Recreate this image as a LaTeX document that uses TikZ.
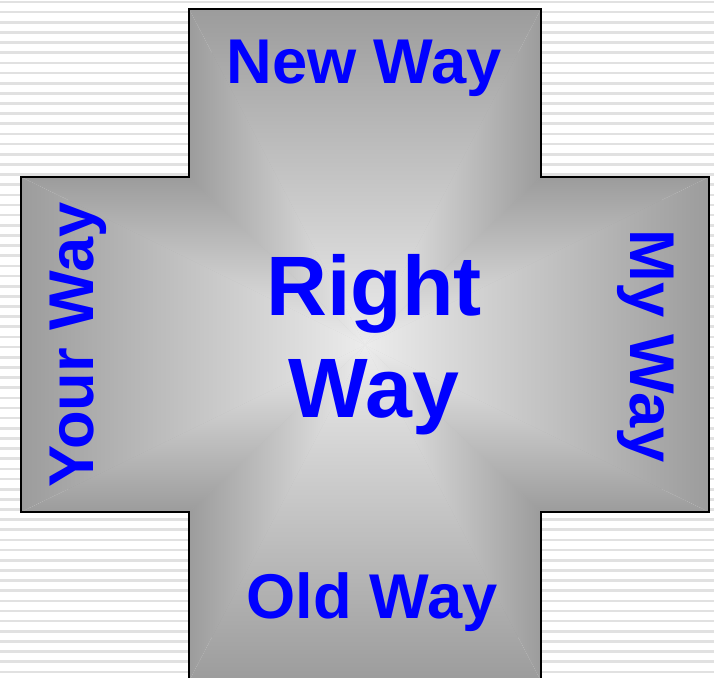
\documentclass[tikz,border=0pt]{standalone}
\usepackage{fontspec}
\setmainfont{Liberation Sans}
\usepackage{tikz}
\usetikzlibrary{positioning,calc}

\definecolor{wayblue}{RGB}{0,0,255}
\definecolor{waylight}{RGB}{236,236,236}
\definecolor{waygray}{RGB}{156,156,156}
\definecolor{stripegray}{RGB}{225,225,225}

\begin{document}
\begin{tikzpicture}[
  x=0.02cm, y=-0.02cm,
  stripe/.style={draw=stripegray, line width=1.5pt},
  rayshade/.style={shading=axis, top color=waygray, bottom color=waylight, draw=none},
  crossline/.style={draw=black, line width=1.2pt, line join=miter},
  waylabel/.style={text=wayblue, inner sep=0pt, font=\fontsize{36}{43}\selectfont\bfseries},
  bigway/.style={text=wayblue, inner sep=0pt, align=center, font=\fontsize{48}{58}\selectfont\bfseries}
]
  \useasboundingbox (0,0) rectangle (714,678);
  % striped background
  \foreach \i in {0,...,66}
    \draw[stripe] (0,{2+10.15*\i}) -- (714,{2+10.15*\i});

  \coordinate (mid) at (365,345);
  \begin{scope}
    \clip (189,9) -- (541,9) -- (541,177) -- (709,177) -- (709,512) -- (541,512)
      -- (541,681) -- (189,681) -- (189,512) -- (21,512) -- (21,177) -- (189,177) -- cycle;
    % soft underlay, so the seams between the rays do not show
    \shade[inner color=waylight!70!waygray, outer color=waygray] (mid) circle (330);
    % cross filled ray by ray, light in the middle
    \foreach \ax/\ay/\bx/\by/\ang in {189/9/541/9/0, 541/9/541/177/270, 541/177/709/177/0,
        709/177/709/512/270, 709/512/541/512/180, 541/512/541/681/270, 541/681/189/681/180,
        189/681/189/512/90, 189/512/21/512/180, 21/512/21/177/90, 21/177/189/177/0, 189/177/189/9/90}
      \shade[rayshade, shading angle=\ang] (mid) -- (\ax,\ay) -- (\bx,\by) -- cycle;
  \end{scope}
  \draw[crossline] (189,9) -- (541,9) -- (541,177) -- (709,177) -- (709,512) -- (541,512)
    -- (541,681) -- (189,681) -- (189,512) -- (21,512) -- (21,177) -- (189,177) -- cycle;

  \node[waylabel, anchor=base] (newway) at (364,84) {New Way};
  \node[waylabel, anchor=base] (oldway) at (372,619) {Old Way};
  \node[waylabel, anchor=base, rotate=90] (yourway) at (93,345) {Your Way};
  \node[waylabel, anchor=base, rotate=-90] (myway) at (630,346) {My Way};
  \node[bigway] (rightway) at (374,345) {Right\\Way};
\end{tikzpicture}
\end{document}
